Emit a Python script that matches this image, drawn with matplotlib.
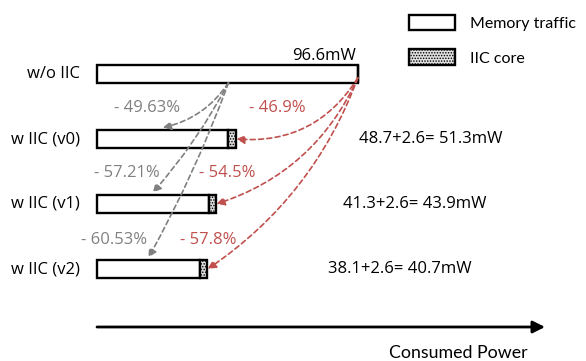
import matplotlib
matplotlib.use("Agg")
import matplotlib.pyplot as plt
from matplotlib.patches import Patch

# ---- data ----
categories = ["w/o IIC", "w IIC (v0)", "w IIC (v1)", "w IIC (v2)"]
memory_traffic = [96.6, 48.7, 41.3, 38.1]
iic_core = [0.0, 2.6, 2.6, 2.6]
grey_labels = ["- 49.63%", "- 57.21%", "- 60.53%"]
red_labels = ["- 46.9%", "- 54.5%", "- 57.8%"]
series_names = ["Memory traffic", "IIC core"]

GREY = "#808080"
RED = "#c0504d"
MAIN_FONT = "Open Sans"
CAL_FONT = "Lato"
plt.rcParams["hatch.color"] = "#b4b4b4"
plt.rcParams["hatch.linewidth"] = 0.7

W, H, DPI = 586, 361, 100
fig = plt.figure(figsize=(W / DPI, H / DPI), dpi=DPI)
ax = fig.add_axes([0, 0, 1, 1])
ax.axis("off")

# scale: x pixel = 97 + 2.70 * mW ; row i at y pixel 74 + 65*i
px_per = 2.70
x0 = 97
ax.set_xlim(-x0 / px_per, (W - x0) / px_per)
ax.set_ylim((H - 74) / 65.0, -74 / 65.0)

CORE_FACE = "#e0e0e0"
ys = list(range(len(categories)))
bh = 0.27
ax.barh(ys, memory_traffic, height=bh, color="white", edgecolor="black", linewidth=1.7, zorder=3)
ax.barh(ys, iic_core, left=memory_traffic, height=bh, color=CORE_FACE, edgecolor="black",
        linewidth=1.7, hatch="......", zorder=3)

totals = [m + c for m, c in zip(memory_traffic, iic_core)]
FS = 12

# category labels
for y, c in zip(ys, categories):
    ax.text(-6.3, y, c, ha="right", va="center", fontsize=FS, family=MAIN_FONT)

# totals text
ax.text(totals[0] - 0.6, -0.27, f"{totals[0]:.1f}mW", ha="right", va="center", fontsize=FS,
        family=MAIN_FONT)
right_x = [48.7 + 48.5, 48.7 + 42.5, 48.7 + 37]
for i in range(1, 4):
    ax.text(right_x[i - 1], ys[i], f"{memory_traffic[i]:.1f}+{iic_core[i]:.1f}= {totals[i]:.1f}mW",
            ha="left", va="center", fontsize=FS, family=MAIN_FONT)

# grey arrows: from end of v0 memory bar under w/o IIC, to mid of each memory bar
grey_rad = [-0.2, -0.06, -0.04]
red_rad = [-0.3, -0.22, -0.16]
for k, i in enumerate(range(1, 4)):
    ax.annotate("", xy=(memory_traffic[i] / 2, ys[i] - bh / 2 - 0.04),
                xytext=(memory_traffic[1], ys[0] + bh / 2),
                arrowprops=dict(arrowstyle="-|>", color=GREY, lw=1.2, ls=(0, (3, 2)),
                                mutation_scale=12, shrinkA=0, shrinkB=0,
                                connectionstyle=f"arc3,rad={grey_rad[k]}"), zorder=4)
    ax.annotate("", xy=(totals[i] + 0.3, ys[i]),
                xytext=(totals[0], ys[0] + 0.06),
                arrowprops=dict(arrowstyle="-|>", color=RED, lw=1.2, ls=(0, (3, 2)),
                                mutation_scale=12, shrinkA=0, shrinkB=0,
                                connectionstyle=f"arc3,rad={red_rad[k]}"), zorder=4)

grey_pos = [(18.5, 0.52), (11.1, 1.52), (6.3, 2.55)]
red_pos = [(66.7, 0.52), (48.1, 1.52), (41.1, 2.55)]
for (x, y), t in zip(grey_pos, grey_labels):
    ax.text(x, y, t, ha="center", va="center", fontsize=FS, color=GREY, family=MAIN_FONT)
for (x, y), t in zip(red_pos, red_labels):
    ax.text(x, y, t, ha="center", va="center", fontsize=FS, color=RED, family=MAIN_FONT)

# consumed power axis arrow
ax.annotate("", xy=((545 - x0) / px_per, (327 - 74) / 65.0), xytext=(0, (327 - 74) / 65.0),
            arrowprops=dict(arrowstyle="-|>", color="black", lw=2, mutation_scale=18,
                            shrinkA=0, shrinkB=0))
ax.text((528 - x0) / px_per, (353 - 74) / 65.0, "Consumed Power", ha="right", va="center",
        fontsize=12.8, family=CAL_FONT)

# legend
handles = [Patch(facecolor="white", edgecolor="black", linewidth=1.7),
           Patch(facecolor=CORE_FACE, edgecolor="black", linewidth=1.7, hatch="......")]
leg = ax.legend(handles, series_names, loc="upper left", bbox_to_anchor=(409 / W, 1 - 15 / H),
                frameon=False, fontsize=11.5, handlelength=2.85, handleheight=1.1,
                labelspacing=1.15, handletextpad=0.95, borderpad=0, borderaxespad=0)
for t in leg.get_texts():
    t.set_family(CAL_FONT)

fig.savefig("out.png", dpi=DPI)
